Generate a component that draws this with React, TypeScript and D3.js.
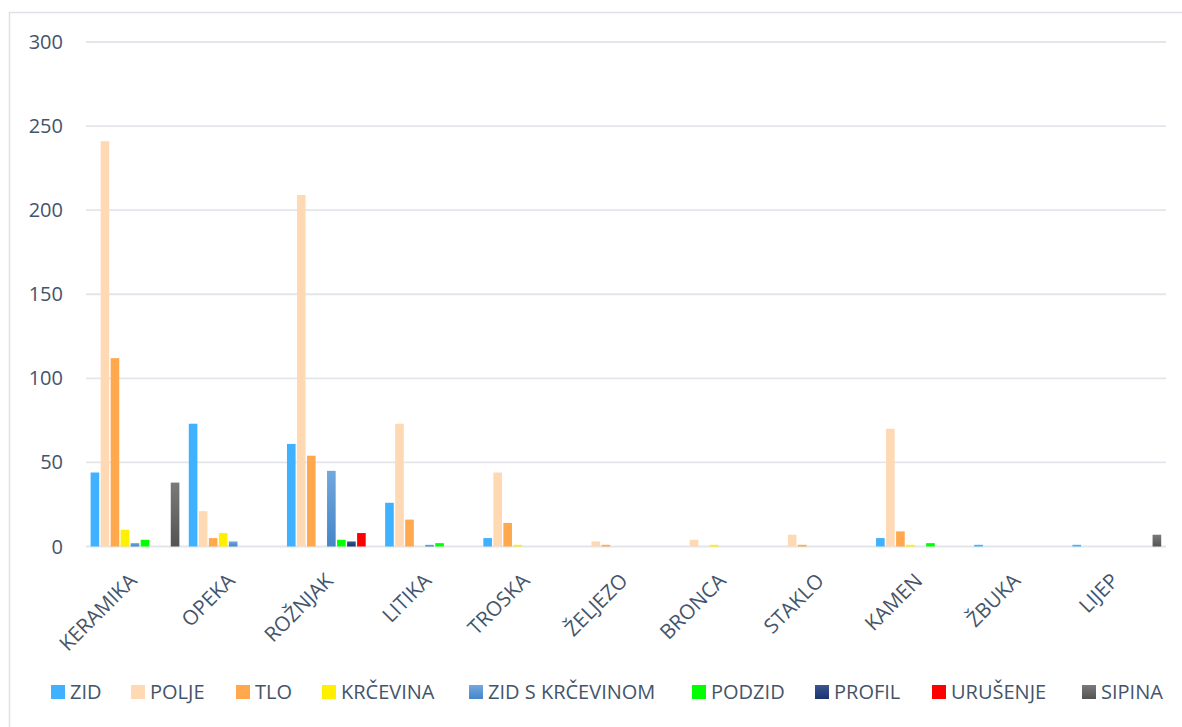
import React from 'react';
import * as d3 from 'd3';

const categories = ['KERAMIKA', 'OPEKA', 'ROŽNJAK', 'LITIKA', 'TROSKA', 'ŽELJEZO', 'BRONCA', 'STAKLO', 'KAMEN', 'ŽBUKA', 'LIJEP'];
const seriesNames = ['ZID', 'POLJE', 'TLO', 'KRČEVINA', 'ZID S KRČEVINOM', 'PODZID', 'PROFIL', 'URUŠENJE', 'SIPINA'];

const zid = [44, 73, 61, 26, 5, 0, 0, 0, 5, 1, 1];
const polje = [241, 21, 209, 73, 44, 3, 4, 7, 70, 0, 0];
const tlo = [112, 5, 54, 16, 14, 1, 0, 1, 9, 0, 0];
const krcevina = [10, 8, 0, 0, 1, 0, 1, 0, 1, 0, 0];
const zidSKrcevinom = [2, 3, 45, 1, 0, 0, 0, 0, 0, 0, 0];
const podzid = [4, 0, 4, 2, 0, 0, 0, 0, 2, 0, 0];
const profil = [0, 0, 3, 0, 0, 0, 0, 0, 0, 0, 0];
const urusenje = [0, 0, 8, 0, 0, 0, 0, 0, 0, 0, 0];
const sipina = [38, 0, 0, 0, 0, 0, 0, 0, 0, 0, 7];

const seriesValues = [zid, polje, tlo, krcevina, zidSKrcevinom, podzid, profil, urusenje, sipina];
const seriesFills = ['#3fb1fe', '#ffd8b4', '#ffa84e', '#fff000', 'url(#gZidK)', '#00ff00', 'url(#gProfil)', '#ff0000', 'url(#gSipina)'];

const yTicks = [0, 50, 100, 150, 200, 250, 300];

const textColor = '#44546a';
const font = '"Open Sans", sans-serif';

export default function App() {
  const width = 1182, height = 727;
  const left = 86, right = 1166, top = 42, bottom = 546.5;

  const x0 = d3.scaleBand().domain(categories).range([left, right]);
  const x1 = d3.scaleBand().domain(seriesNames).range([0, x0.bandwidth()]).paddingOuter(0.4);
  const y = d3.scaleLinear().domain([0, 300]).range([bottom, top]);

  const legendX = [51, 131, 236, 322, 469, 692, 815, 932, 1082];

  return (
    <svg width={width} height={height} style={{ position: 'absolute', left: 0, top: 0 }}>
      <defs>
        <linearGradient id="gZidK" x1="0" y1="0" x2="0" y2="1">
          <stop offset="0%" stopColor="#72a8de" />
          <stop offset="100%" stopColor="#4585c8" />
        </linearGradient>
        <linearGradient id="gProfil" x1="0" y1="0" x2="0" y2="1">
          <stop offset="0%" stopColor="#3a5592" />
          <stop offset="100%" stopColor="#1c3370" />
        </linearGradient>
        <linearGradient id="gSipina" x1="0" y1="0" x2="0" y2="1">
          <stop offset="0%" stopColor="#7a7a7a" />
          <stop offset="100%" stopColor="#545454" />
        </linearGradient>
      </defs>
      <rect x={0} y={0} width={width} height={height} fill="#fff" />
      <rect x={9.5} y={12.5} width={1250} height={800} fill="none" stroke="#dde1e6" strokeWidth={1.5} />

      {yTicks.map((t) => (
        <g key={`t-${t}`}>
          <line x1={left} x2={right} y1={y(t)} y2={y(t)} stroke="#e2e6eb" strokeWidth={1.8} />
          <text x={63} y={y(t)} dy="0.35em" textAnchor="end" fontFamily={font} fontSize={20} fill={textColor}>{t}</text>
        </g>
      ))}

      {categories.map((c, ci) => (
        <g key={`c-${c}`} transform={`translate(${x0(c)},0)`}>
          {seriesNames.map((s, si) => {
            const v = seriesValues[si][ci];
            if (!v) return null;
            return (
              <rect
                key={`b-${c}-${s}`}
                x={(x1(s) as number) + 0.6}
                y={y(v)}
                width={x1.bandwidth() - 1.4}
                height={y(0) - y(v)}
                fill={seriesFills[si]} />
            );
          })}
        </g>
      ))}

      {categories.map((c) => {
        const cx = (x0(c) as number) + x0.bandwidth() / 2;
        return (
          <text key={`xl-${c}`} transform={`translate(${cx + 3},${582}) rotate(-45)`} textAnchor="end"
            fontFamily={font} fontSize={20.5} fill={textColor}>{c}</text>
        );
      })}

      {seriesNames.map((s, si) => (
        <g key={`lg-${s}`} transform={`translate(${legendX[si]},692)`}>
          <rect x={0} y={-7} width={14} height={14} fill={seriesFills[si]} />
          <text x={19} y={0} dy="0.36em" fontFamily={font} fontSize={20} fill={textColor}>{s}</text>
        </g>
      ))}
    </svg>
  );
}
